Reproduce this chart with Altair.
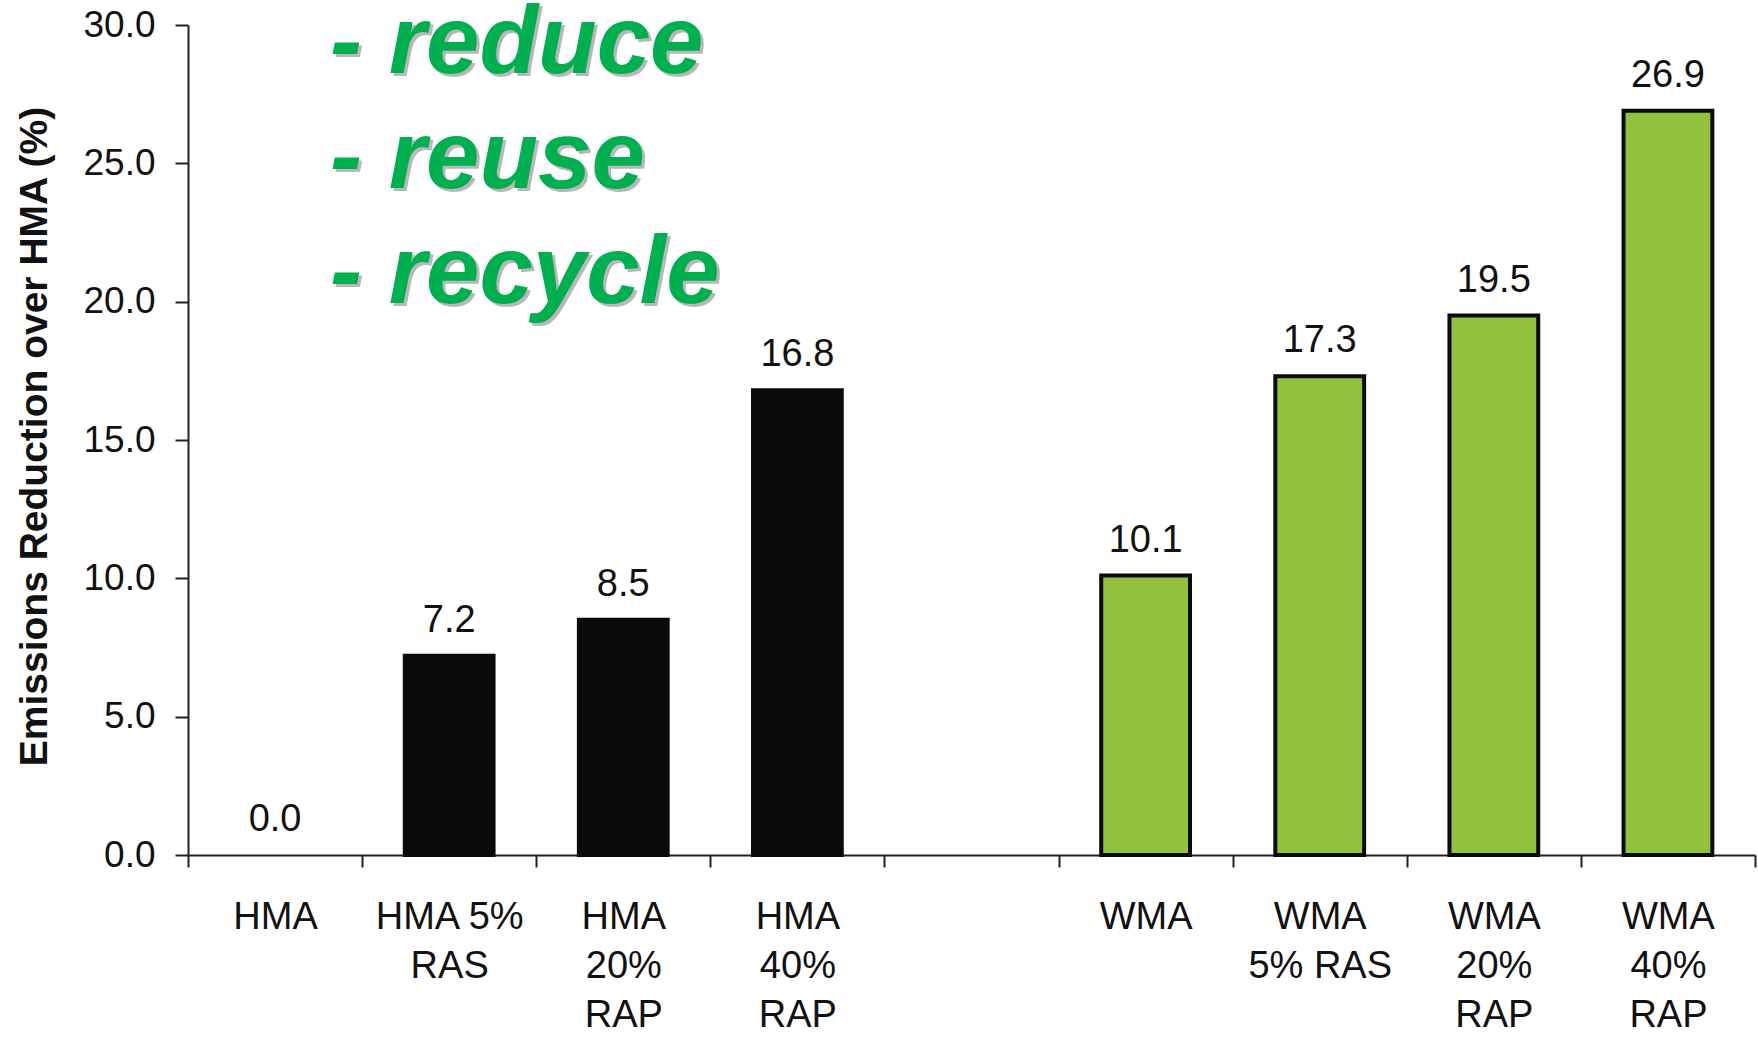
import altair as alt
import pandas as pd

# ---- data ----
categories = ["HMA", "HMA 5%|RAS", "HMA|20%|RAP", "HMA|40%|RAP", " ",
              "WMA", "WMA|5% RAS", "WMA|20%|RAP", "WMA|40%|RAP"]
bar_categories = ["HMA", "HMA 5%|RAS", "HMA|20%|RAP", "HMA|40%|RAP",
                  "WMA", "WMA|5% RAS", "WMA|20%|RAP", "WMA|40%|RAP"]
values = [0.0, 7.2, 8.5, 16.8, 10.1, 17.3, 19.5, 26.9]
groups = ["HMA", "HMA", "HMA", "HMA", "WMA", "WMA", "WMA", "WMA"]
y_ticks = [0, 5, 10, 15, 20, 25, 30]
annotation_lines = ["- reduce", "- reuse", "- recycle"]

df = pd.DataFrame({"cat": bar_categories, "value": values, "group": groups})
ann = pd.DataFrame({"t": ["\n".join(annotation_lines)]})

FONT = "Liberation Sans"

x_scale = alt.Scale(domain=categories, paddingInner=0, paddingOuter=0)

x_enc = alt.X(
    "cat:N",
    sort=categories,
    scale=x_scale,
    axis=alt.Axis(
        title=None,
        labelExpr="isValid(datum.value) ? split(datum.value, '|') : ''",
        labelAngle=0,
        labelFont=FONT,
        labelFontSize=38,
        labelColor="#111111",
        labelLineHeight=49,
        labelAlign="center",
        labelBaseline="alphabetic",
        labelPadding=61,
        tickSize=12,
        tickBand="extent",
        tickColor="#222222",
        tickWidth=2,
        domainColor="#222222",
        domainWidth=2,
        labelOverlap=False,
    ),
)

y_enc = alt.Y(
    "value:Q",
    scale=alt.Scale(domain=[0, 30], nice=False),
    axis=alt.Axis(
        title="Emissions Reduction over HMA (%)",
        values=y_ticks,
        format=".1f",
        labelFont=FONT,
        labelFontSize=37,
        labelColor="#111111",
        labelPadding=20,
        tickSize=13,
        tickColor="#222222",
        tickWidth=2,
        domainColor="#222222",
        domainWidth=2,
        grid=False,
        titleFont=FONT,
        titleFontWeight="bold",
        titleFontSize=39,
        titleColor="#111111",
        titleAngle=-90,
        titleAlign="center",
        titleBaseline="alphabetic",
        titleX=-142,
        titleY=411,
    ),
)

bars = alt.Chart(df).mark_bar(
    stroke="#0a0a0a", width=alt.RelativeBandSize(0.51)
).encode(
    x=x_enc,
    y=y_enc,
    color=alt.Color("group:N", scale=alt.Scale(domain=["HMA", "WMA"],
                                               range=["#0a0a0a", "#92c13e"]),
                    legend=None),
    strokeWidth=alt.condition(alt.datum.value > 0, alt.value(4), alt.value(0)),
)

labels = alt.Chart(df).mark_text(
    font=FONT, fontSize=38, color="#111111", baseline="alphabetic", dy=-24
).encode(
    x=alt.X("cat:N", sort=categories, scale=x_scale),
    y=alt.Y("value:Q"),
    text=alt.Text("value:Q", format=".1f"),
)

shadow = alt.Chart(ann).mark_text(
    font=FONT, fontSize=96, fontWeight="bold", fontStyle="italic",
    color="#7f7f7f", opacity=0.55, align="left", baseline="alphabetic",
    lineBreak="\n", lineHeight=115, dx=3, dy=3,
).encode(x=alt.value(142), y=alt.value(48), text="t:N")

green = alt.Chart(ann).mark_text(
    font=FONT, fontSize=96, fontWeight="bold", fontStyle="italic",
    color="#00b050", align="left", baseline="alphabetic",
    lineBreak="\n", lineHeight=115,
).encode(x=alt.value(142), y=alt.value(48), text="t:N")

chart = alt.layer(bars, labels, shadow, green).properties(
    width=1567,
    height=830,
    autosize=alt.AutoSizeParams(type="none"),
    padding={"left": 188, "top": 25, "right": 3, "bottom": 183},
    background="white",
).configure_view(stroke=None)

chart.save("out.html", embed_options={"renderer": "svg", "actions": False})
